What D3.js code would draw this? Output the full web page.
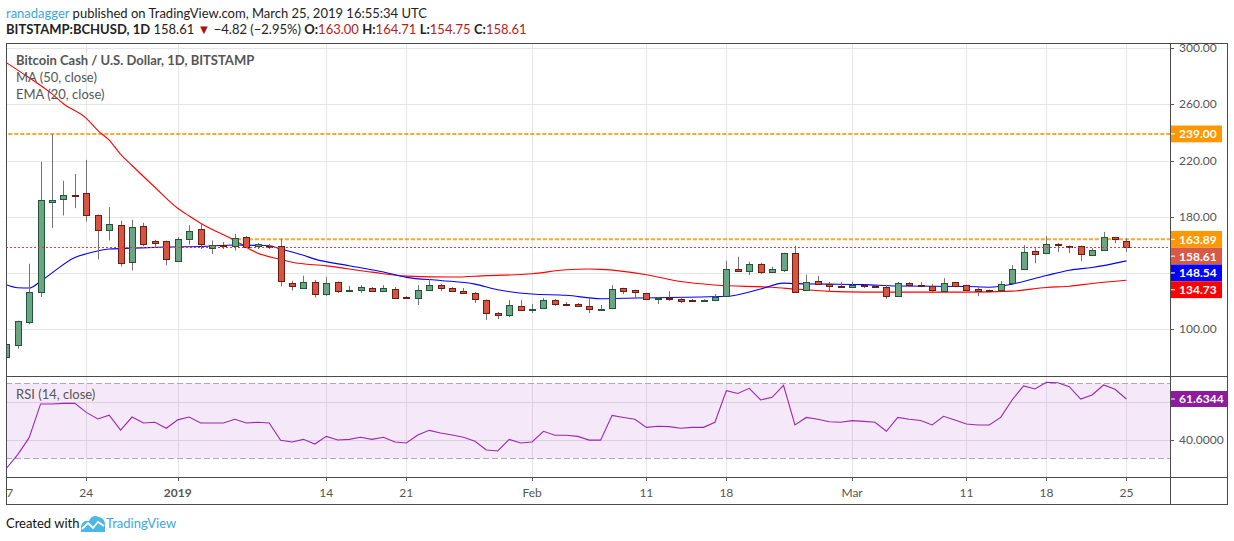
<!DOCTYPE html>
<html>
<head>
<meta charset="utf-8">
<script src="https://cdn.jsdelivr.net/npm/d3@7.9.0/dist/d3.min.js"></script>
<style>
  body { margin: 0; background: #fff; }
  svg { display: block; font-family: Lato, "Liberation Sans", sans-serif; }
</style>
</head>
<body>
<svg id="chart" width="1234" height="541"></svg>
<script>
// daily candles, BITSTAMP:BCHUSD, 2018-12-17 .. 2019-03-25
const startDay = "2018-12-17";
const opens = [80.5, 88.6, 105, 126.3, 190.4, 192.5, 195.4, 196.8, 180.9, 170.4,
  174, 147.7, 173.1, 162.9, 162.6, 148.4, 164, 171.2, 157.6, 160,
  159.3, 165.7, 159.3, 159.3, 158.8, 132.7, 128.9, 133.5, 124.9, 133.5,
  127, 127.8, 129.2, 127, 128.5, 122.8, 122.1, 127.8, 131.3, 129.2,
  127, 125.6, 120.6, 111.4, 110, 116.4, 113.5, 115, 120.6, 117.8,
  117.8, 116.4, 113.5, 115, 129.2, 127.8, 125.6, 121.4, 122.1, 121.4,
  120.8, 120.3, 120.6, 123.5, 142.7, 141.3, 146.3, 140.6, 142, 154.1,
  127.8, 134.2, 132, 130.6, 129.9, 131.3, 130.8, 129.9, 123.5, 132.7,
  131.3, 130.5, 127, 133.4, 131.3, 128.4, 127.7, 127.7, 132.7, 142.6,
  155.4, 154, 160.4, 159, 159, 152.6, 156.2, 165.4, 163.00];
const highs = [90.5, 106, 146.5, 219.1, 239, 205.6, 210.5, 220.5, 181.5, 186.8,
  177.1, 177.8, 175.7, 163.6, 163, 165.5, 174, 175, 163.1, 162,
  167.8, 166.4, 161.2, 160.7, 164.3, 134.4, 138, 134.9, 137, 133.8,
  130.6, 131.3, 129.9, 131.3, 129.9, 123.5, 131.3, 135.6, 132, 129.9,
  129.2, 126.3, 121, 112.1, 120.6, 120.6, 117.8, 122.1, 121.4, 119.2,
  118.5, 122.1, 117.1, 131.3, 129.4, 128, 125.8, 122.8, 127, 122.8,
  121.4, 121.2, 124.9, 148.6, 151.5, 147.9, 147.2, 144.4, 154.3, 159.3,
  138.7, 137.7, 133.5, 133.5, 133.5, 131.6, 131, 131.3, 133.5, 133.4,
  133.4, 132, 136.2, 133.6, 131.5, 129.8, 128, 134.1, 145.5, 159.7,
  157.6, 166.1, 161.2, 159.5, 159.5, 157.6, 169.2, 165.6, 164.71];
const lows = [79, 86, 103.3, 122.8, 172, 180.9, 186.1, 176.6, 149.6, 163.1,
  144.6, 141.7, 159, 158.1, 145.3, 148, 160.2, 157, 153.4, 157,
  156, 158.3, 157, 157, 130.3, 127.5, 128.5, 122.5, 123.5, 125.6,
  126.5, 125.6, 126.3, 126.3, 121.4, 121.4, 117.1, 127.5, 127, 126.3,
  124.9, 118.5, 106.4, 107.1, 108.5, 112.8, 111.4, 114.8, 116.4, 116.8,
  115.7, 111.4, 113.2, 114.2, 124.9, 121.4, 120.6, 117.8, 120, 118.5,
  120, 120, 120, 123.2, 141, 138.4, 139.1, 140, 140.6, 126,
  127.5, 131.8, 126.3, 129.6, 129.6, 129.2, 129.2, 121.4, 123.2, 129.8,
  130.3, 126.3, 126.8, 129.8, 127, 123.4, 126.3, 127.5, 132.5, 142.4,
  146.9, 153.8, 154.7, 154, 148.3, 151.9, 155.8, 161.2, 154.75];
const closes = [89.5, 105.4, 126.3, 191.8, 191.8, 195.4, 194.5, 181.1, 170.4, 174.7,
  147, 172.6, 160.5, 161.7, 149.8, 164, 169.7, 160.5, 159.8, 159.5,
  165, 158.8, 160.5, 158.3, 134.1, 130.6, 133.5, 124.9, 132.7, 127,
  127.8, 129.9, 127, 129.2, 122.1, 122.1, 127.8, 131.3, 129.2, 127,
  125.6, 121.4, 111.4, 110, 117.1, 113.5, 114.2, 120.6, 117.8, 117.3,
  116.4, 114.2, 114.2, 128.5, 127, 126.3, 121.4, 122.1, 121.6, 120,
  120.3, 120.8, 122.8, 142.7, 141.3, 146.3, 140.6, 142.7, 154.1, 126.3,
  133.5, 132, 130.6, 129.9, 131.3, 130.8, 130, 123.5, 132.7, 131.3,
  130.6, 127.7, 132.7, 130.5, 127.7, 127, 127.2, 132, 142.6, 154.7,
  153.3, 160.4, 159.7, 158.3, 153.3, 156.2, 165.4, 164, 158.61];

// MA (50) and EMA (20) at these day offsets
const ma50Days = [0, 2, 4, 5, 7, 8, 9, 10, 11, 13, 15, 16, 17, 20, 22, 24, 25, 28, 32, 35,
  39, 42, 46, 49, 51, 52, 56, 59, 62, 67, 69, 72, 75, 80, 84, 88, 91, 93, 95, 98];
const ma50Vals = [289.8, 279, 267.5, 260.5, 250.1, 241.5, 234.5, 224.5, 216.5, 201, 186, 180.5, 175.4, 163, 154, 149.6, 147.5, 145, 140.5, 137.7,
  137, 138, 139.4, 142.2, 142.7, 142.5, 138.7, 133.8, 131.3, 129.7, 128.5, 126.8, 126.3, 126.3, 126.3, 127, 129.6, 130.5, 132.4, 134.73];
const ema20Days = [0, 1, 2, 3, 4, 6, 7, 9, 11, 14, 17, 20, 23, 24, 25, 26, 27, 30, 33, 35,
  38, 41, 43, 46, 49, 52, 55, 63, 66, 68, 69, 72, 75, 78, 84, 86, 87, 88, 91, 93, 95, 98];
const ema20Vals = [131.5, 129.4, 129.2, 134, 140, 151, 153.6, 157, 157.6, 158.4, 158.8, 159.8, 159.3, 157, 154.8, 152.5, 149.8, 145.1, 140.6, 136.8,
  134.6, 132, 128, 124.9, 124, 121.6, 122.1, 123.3, 128.5, 132.7, 132.3, 132, 131.6, 130.6, 130.3, 129.8, 130.5, 132, 138.1, 141.9, 143.8, 148.54];

// RSI (14, close), one value per day
const rsiVals = [24.6, 32, 41, 59, 59, 59.3, 59.3, 54.5, 51, 53,
  45, 52, 48.8, 49.2, 46, 50.5, 52, 48.8, 48.8, 48.8,
  50.8, 48.8, 49.2, 48.8, 39.6, 38.7, 40.1, 37.6, 41.7, 39.8,
  40.1, 41.2, 40.1, 41.2, 38.7, 38.2, 42.4, 44.9, 43.5, 42.4,
  41.2, 39.1, 34.4, 33.9, 40.1, 38.2, 38.7, 44.4, 42.3, 42.3,
  41.7, 39.7, 39.7, 52.9, 51.8, 50.8, 46.5, 47.1, 46.9, 46,
  46.5, 46.5, 49.2, 66.1, 64.6, 67.3, 61.1, 62.5, 68.9, 47.8,
  51.8, 50.8, 49.5, 49.2, 50.1, 49.7, 49.2, 44.4, 51.8, 50.8,
  50.2, 47.8, 52.4, 50.4, 48.3, 47.8, 47.8, 51.8, 61.1, 68.6,
  67, 70.5, 70.3, 68.2, 61.6, 63.8, 69.1, 66.8, 61.6344];

const priceTicks = [100, 140, 180, 220, 260, 300];
const rsiTicks = [40, 60];
const rsiBands = [70, 30];
const dateTicks = ["2018-12-17", "2018-12-24", "2019-01-01", "2019-01-14", "2019-01-21", "2019-02-01",
  "2019-02-11", "2019-02-18", "2019-03-01", "2019-03-11", "2019-03-18", "2019-03-25"];
const dateTickLabels = ["17", "24", "2019", "14", "21", "Feb", "11", "18", "Mar", "11", "18", "25"];
const levelVals = [239.00, 163.89];
const levelStartDays = [0, 20];

const svg = d3.select("#chart");
const padL = 6, axisX = 1170, padR = 1227, paneTop = 43, mainBottom = 376, rsiBottom = 477, frameBottom = 504;

const start = new Date(startDay + "T00:00:00Z");
const day = i => d3.utcDay.offset(start, i);
const candles = opens.map((o, i) => ({ date: day(i), o, h: highs[i], l: lows[i], c: closes[i] }));

const x = d3.scaleUtc().domain([day(0), day(98)]).range([6.3, 1126.4]);
const y = d3.scaleLinear().domain([100, 300]).range([329, 48.3]);
const yr = d3.scaleLinear().domain([30, 70]).range([458.3, 383.3]);

const defs = svg.append("defs");
defs.append("clipPath").attr("id", "clipMain").append("rect")
  .attr("x", padL + 0.5).attr("y", paneTop).attr("width", axisX - padL - 0.5).attr("height", mainBottom - paneTop);
defs.append("clipPath").attr("id", "clipRsi").append("rect")
  .attr("x", padL + 0.5).attr("y", mainBottom).attr("width", axisX - padL - 0.5).attr("height", rsiBottom - mainBottom);
defs.append("clipPath").attr("id", "clipAxis").append("rect")
  .attr("x", padL + 1).attr("y", rsiBottom).attr("width", axisX - padL - 1).attr("height", frameBottom - rsiBottom);

// ---------- header ----------
const head1 = svg.append("text").attr("x", 6).attr("y", 18).attr("font-size", 13).attr("fill", "#222");
head1.append("tspan").attr("fill", "#3ea6db").text("ranadagger");
head1.append("tspan").text(" published on TradingView.com, March 25, 2019 16:55:34 UTC");

const last = candles[candles.length - 1];
const head2 = svg.append("text").attr("x", 6).attr("y", 34).attr("font-size", 13).attr("fill", "#222");
head2.append("tspan").attr("font-weight", "bold").text("BITSTAMP:BCHUSD, 1D");
head2.append("tspan").text(" " + last.c.toFixed(2) + " ");
head2.append("tspan").attr("fill", "#a31515").text("\u25BC");
head2.append("tspan").text(" \u22124.82 (\u22122.95%) ");
[["O:", last.o], ["H:", last.h], ["L:", last.l], ["C:", last.c]].forEach(([k, v]) => {
  head2.append("tspan").attr("font-weight", "bold").text(k);
  head2.append("tspan").attr("fill", "#b71c1c").text(v.toFixed(2) + " ");
});

// ---------- grid ----------
const grid = svg.append("g");
grid.selectAll(".vg").data(dateTicks).enter().append("line")
  .attr("x1", d => Math.round(x(new Date(d + "T00:00:00Z"))) + 0.5)
  .attr("x2", d => Math.round(x(new Date(d + "T00:00:00Z"))) + 0.5)
  .attr("y1", paneTop).attr("y2", rsiBottom)
  .attr("stroke", "#e6e6e6");
grid.selectAll(".hg").data(priceTicks).enter().append("line")
  .attr("x1", padL).attr("x2", axisX)
  .attr("y1", d => Math.round(y(d)) + 0.5).attr("y2", d => Math.round(y(d)) + 0.5)
  .attr("stroke", "#e6e6e6");
grid.selectAll(".rg").data(rsiTicks).enter().append("line")
  .attr("x1", padL).attr("x2", axisX)
  .attr("y1", d => Math.round(yr(d)) + 0.5).attr("y2", d => Math.round(yr(d)) + 0.5)
  .attr("stroke", "#e2e2e2");

// ---------- main pane ----------
const main = svg.append("g").attr("clip-path", "url(#clipMain)");

// resistance levels
main.selectAll(".lvl").data(levelVals).enter().append("line")
  .attr("x1", (d, i) => x(day(levelStartDays[i])) - 4).attr("x2", axisX)
  .attr("y1", d => y(d)).attr("y2", d => y(d))
  .attr("stroke", "#ff9800").attr("stroke-width", 2).attr("stroke-dasharray", "4,2").attr("opacity", 0.85);

// moving averages
const maLine = d3.line().curve(d3.curveMonotoneX).x(d => x(day(d[0]))).y(d => y(d[1]));
main.append("path").datum(ma50Days.map((d, i) => [d, ma50Vals[i]]))
  .attr("d", maLine).attr("fill", "none").attr("stroke", "#ff0000").attr("stroke-width", 1.1);
main.append("path").datum(ema20Days.map((d, i) => [d, ema20Vals[i]]))
  .attr("d", maLine).attr("fill", "none").attr("stroke", "#0000ff").attr("stroke-width", 1.1);

// candles
const cg = main.append("g");
cg.selectAll(".wick").data(candles).enter().append("line")
  .attr("x1", d => Math.round(x(d.date)) + 0.5).attr("x2", d => Math.round(x(d.date)) + 0.5)
  .attr("y1", d => y(d.h)).attr("y2", d => y(d.l))
  .attr("stroke", "#737375");
cg.selectAll(".body").data(candles).enter().append("rect")
  .attr("x", d => Math.round(x(d.date)) - 3 + 0.5)
  .attr("width", 6)
  .attr("y", d => Math.round(y(Math.max(d.o, d.c))) + 0.5)
  .attr("height", d => Math.max(1, Math.round(Math.abs(y(d.o) - y(d.c)))))
  .attr("fill", d => d.c >= d.o ? "#6ba583" : "#d75442")
  .attr("stroke", d => d.c >= d.o ? "#225437" : "#6b1d12");

// last close line
main.append("line")
  .attr("x1", padL).attr("x2", axisX)
  .attr("y1", Math.round(y(last.c)) + 0.5).attr("y2", Math.round(y(last.c)) + 0.5)
  .attr("stroke", "#e53935").attr("stroke-dasharray", "2,2");

// legend
const lg = svg.append("g").attr("font-size", 13).attr("fill", "#555");
lg.append("text").attr("x", 16).attr("y", 65).attr("font-weight", "bold").text("Bitcoin Cash / U.S. Dollar, 1D, BITSTAMP");
lg.append("text").attr("x", 16).attr("y", 82).text("MA (50, close)");
lg.append("text").attr("x", 16).attr("y", 99).text("EMA (20, close)");

// ---------- RSI pane ----------
const rsiG = svg.append("g").attr("clip-path", "url(#clipRsi)");
rsiG.append("rect")
  .attr("x", padL).attr("width", axisX - padL)
  .attr("y", yr(70)).attr("height", yr(30) - yr(70))
  .attr("fill", "rgba(155, 39, 200, 0.1)");
rsiG.selectAll(".band").data(rsiBands).enter().append("line")
  .attr("x1", padL).attr("x2", axisX)
  .attr("y1", d => Math.round(yr(d)) + 0.5).attr("y2", d => Math.round(yr(d)) + 0.5)
  .attr("stroke", "#b0a8b4").attr("stroke-dasharray", "6,3");
rsiG.append("path").datum(rsiVals)
  .attr("d", d3.line().x((d, i) => x(day(i))).y(d => yr(d)))
  .attr("fill", "none").attr("stroke", "#9c27b0").attr("stroke-width", 1.1);
rsiG.append("text").attr("x", 16).attr("y", 398.5).attr("font-size", 13).attr("fill", "#555").text("RSI (14, close)");

// ---------- frames ----------
const fr = svg.append("g").attr("stroke", "#4a4a4a").attr("fill", "none");
fr.append("rect").attr("x", padL + 0.5).attr("y", paneTop + 0.5).attr("width", padR - padL).attr("height", frameBottom - paneTop);
fr.append("line").attr("x1", axisX + 0.5).attr("x2", axisX + 0.5).attr("y1", paneTop).attr("y2", frameBottom);
fr.append("line").attr("x1", padL).attr("x2", padR).attr("y1", mainBottom + 0.5).attr("y2", mainBottom + 0.5);
fr.append("line").attr("x1", padL).attr("x2", padR).attr("y1", rsiBottom + 0.5).attr("y2", rsiBottom + 0.5);

// ---------- price axis ----------
const pa = svg.append("g").attr("font-size", 12).attr("fill", "#555");
pa.selectAll(".pt").data(priceTicks).enter().append("line")
  .attr("x1", axisX).attr("x2", axisX + 4)
  .attr("y1", d => Math.round(y(d)) + 0.5).attr("y2", d => Math.round(y(d)) + 0.5)
  .attr("stroke", "#555");
pa.selectAll(".pl").data(priceTicks).enter().append("text")
  .attr("x", 1179).attr("y", d => y(d) + 4).text(d => d.toFixed(2));

const boxH = 16.8;
const boxes = [
  { v: levelVals[0], col: "#ff9800" },
  { v: levelVals[1], col: "#ff9800" },
  { v: last.c, col: "#d65a47" },
  { v: ema20Vals[ema20Vals.length - 1], col: "#0000ff" },
  { v: ma50Vals[ma50Vals.length - 1], col: "#ff0000" }
];
let prevY = -1e9;
boxes.forEach(b => { b.cy = Math.max(y(b.v), prevY + boxH); prevY = b.cy; });
const bx = pa.selectAll(".box").data(boxes).enter().append("g");
bx.append("rect").attr("x", axisX + 1).attr("width", 51).attr("y", d => d.cy - boxH / 2).attr("height", boxH).attr("fill", d => d.col);
bx.append("line").attr("x1", axisX + 1).attr("x2", axisX + 5).attr("y1", d => d.cy).attr("y2", d => d.cy).attr("stroke", "#fff");
bx.append("text").attr("x", 1179).attr("y", d => d.cy + 4.5).attr("fill", "#fff").attr("font-weight", "bold").text(d => d.v.toFixed(2));

// RSI axis
pa.selectAll(".rt").data([40]).enter().append("line")
  .attr("x1", axisX).attr("x2", axisX + 4)
  .attr("y1", d => Math.round(yr(d)) + 0.5).attr("y2", d => Math.round(yr(d)) + 0.5).attr("stroke", "#555");
pa.selectAll(".rl").data([40]).enter().append("text")
  .attr("x", 1179).attr("y", d => yr(d) + 4).text(d => d.toFixed(4));
const rsiLast = rsiVals[rsiVals.length - 1];
pa.append("rect").attr("x", axisX + 1).attr("width", padR - axisX - 1).attr("y", yr(rsiLast) - 8).attr("height", 16).attr("fill", "#8e1a9f");
pa.append("line").attr("x1", axisX + 1).attr("x2", axisX + 5).attr("y1", yr(rsiLast)).attr("y2", yr(rsiLast)).attr("stroke", "#fff");
pa.append("text").attr("x", 1179).attr("y", yr(rsiLast) + 4.5).attr("fill", "#fff").attr("font-weight", "bold").text(rsiLast.toFixed(4));

// ---------- time axis ----------
const ta = svg.append("g").attr("clip-path", "url(#clipAxis)").attr("font-size", 12).attr("fill", "#555");
ta.selectAll(".tt").data(dateTicks).enter().append("line")
  .attr("x1", d => Math.round(x(new Date(d + "T00:00:00Z"))) + 0.5)
  .attr("x2", d => Math.round(x(new Date(d + "T00:00:00Z"))) + 0.5)
  .attr("y1", rsiBottom).attr("y2", rsiBottom + 4).attr("stroke", "#555");
ta.selectAll(".tl").data(dateTicks).enter().append("text")
  .attr("x", d => x(new Date(d + "T00:00:00Z")))
  .attr("y", 496.5).attr("text-anchor", "middle")
  .attr("font-weight", (d, i) => dateTickLabels[i] === "2019" ? "bold" : null)
  .text((d, i) => dateTickLabels[i]);

// ---------- footer ----------
const ft = svg.append("g");
ft.append("text").attr("x", 6).attr("y", 528).attr("font-size", 13).attr("fill", "#111").text("Created with");
ft.append("path")
  .attr("d", "M81,532 L81,526 Q83,520 89,521 Q92,514 99,517 Q105,518 105,525 L105,532 Z")
  .attr("fill", "#4cb8e8");
ft.append("polyline").attr("points", "82,529 88,523 93,528 98,522 104,526")
  .attr("fill", "none").attr("stroke", "#fff").attr("stroke-width", 1.8);
ft.append("text").attr("x", 106).attr("y", 528).attr("font-size", 13).attr("fill", "#3ea6db").text("TradingView");
</script>
</body>
</html>
